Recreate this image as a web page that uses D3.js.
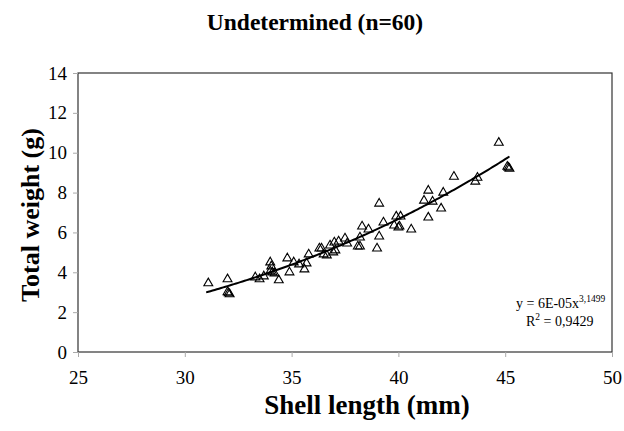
<!DOCTYPE html>
<html>
<head>
<meta charset="utf-8">
<script src="https://cdn.jsdelivr.net/npm/d3@7"></script>
<style>
  body { margin: 0; background: #fff; }
  svg text { font-family: "Liberation Serif", "Times New Roman", serif; }
</style>
</head>
<body>
<svg id="chart"></svg>
<script>
// shell length (mm) / total weight (g)
const shellLength = [
  31.1, 32.0, 32.0, 32.1, 32.05, 33.3, 33.5, 33.7, 34.0, 34.05,
  34.0, 34.2, 34.4, 34.8, 34.9, 35.1, 35.35, 35.6, 35.7, 35.8,
  36.3, 36.5, 36.65, 36.8, 36.95, 37.0, 37.2, 37.5, 37.6, 38.1,
  38.2, 38.3, 38.6, 39.1, 39.3, 39.1, 39.0, 39.9, 40.1, 39.8,
  40.0, 40.6, 41.4, 41.2, 41.6, 42.0, 41.4, 42.1, 42.6, 43.6,
  43.7, 44.7, 45.1, 45.2, 36.4, 38.2, 40.05, 34.1, 37.05, 45.15
];
const totalWeight = [
  3.45, 3.65, 3.0, 2.9, 2.95, 3.75, 3.65, 3.8, 4.5, 4.3,
  4.05, 3.95, 3.6, 4.7, 4.0, 4.5, 4.4, 4.15, 4.45, 4.9,
  5.2, 4.9, 4.85, 5.35, 5.0, 5.5, 5.55, 5.7, 5.45, 5.3,
  5.75, 6.3, 6.15, 7.45, 6.5, 5.8, 5.2, 6.8, 6.8, 6.35,
  6.25, 6.15, 8.1, 7.6, 7.55, 7.2, 6.75, 8.0, 8.8, 8.55,
  8.75, 10.5, 9.3, 9.2, 5.2, 5.3, 6.3, 4.0, 5.1, 9.25
];
const xTicks = [25, 30, 35, 40, 45, 50];
const yTicks = [0, 2, 4, 6, 8, 10, 12, 14];
// power trendline y = a * x^b
const fitA = 6e-5, fitB = 3.1499;
const fitRange = [31.0, 45.2];

const serif = "'Liberation Serif', 'Times New Roman', serif";
const W = 624, H = 431;
const m = { left: 78, right: 12, top: 73, bottom: 79 };

const svg = d3.select("#chart").attr("width", W).attr("height", H);

const x = d3.scaleLinear().domain([25, 50]).range([m.left, W - m.right]);
const y = d3.scaleLinear().domain([0, 14]).range([H - m.bottom, m.top]);

// frame around the plot area
svg.append("rect")
  .attr("x", x(25)).attr("y", y(14))
  .attr("width", x(50) - x(25)).attr("height", y(0) - y(14))
  .attr("fill", "none").attr("stroke", "#333").attr("stroke-width", 1.2);

// axes
const xAxis = svg.append("g")
  .attr("transform", "translate(0," + y(0) + ")")
  .call(d3.axisBottom(x).tickValues(xTicks).tickSize(5).tickPadding(14));
const yAxis = svg.append("g")
  .attr("transform", "translate(" + x(25) + ",0)")
  .call(d3.axisLeft(y).tickValues(yTicks).tickSize(5).tickPadding(6));

[xAxis, yAxis].forEach(g => {
  g.attr("font-family", serif).attr("font-size", 19);
  g.select(".domain").remove();
  g.selectAll("line").attr("stroke", "#aaa");
  g.selectAll("text").attr("fill", "#000");
});

// trendline
const fitXs = d3.range(fitRange[0], fitRange[1] + 0.001, 0.1);
svg.append("path")
  .datum(fitXs)
  .attr("fill", "none")
  .attr("stroke", "#000")
  .attr("stroke-width", 2)
  .attr("d", d3.line().x(d => x(d)).y(d => y(fitA * Math.pow(d, fitB))));

// points
svg.append("g").selectAll("path")
  .data(d3.range(shellLength.length))
  .enter().append("path")
  .attr("transform", i => "translate(" + x(shellLength[i]) + "," + y(totalWeight[i]) + ")")
  .attr("d", d3.symbol(d3.symbolTriangle, 34))
  .attr("fill", "none")
  .attr("stroke", "#000")
  .attr("stroke-width", 1.1);

// title
svg.append("text")
  .attr("x", 315).attr("y", 30)
  .attr("text-anchor", "middle")
  .style("font-family", serif)
  .style("font-size", "23.5px").style("font-weight", "bold")
  .text("Undetermined (n=60)");

// axis titles
svg.append("text")
  .attr("x", 367).attr("y", 414)
  .attr("text-anchor", "middle")
  .style("font-family", serif)
  .style("font-size", "27px").style("font-weight", "bold")
  .text("Shell length (mm)");

svg.append("text")
  .attr("transform", "translate(39," + 215 + ") rotate(-90)")
  .attr("text-anchor", "middle")
  .style("font-family", serif)
  .style("font-size", "26px").style("font-weight", "bold")
  .text("Total weight (g)");

// equation
const eq = svg.append("text")
  .attr("x", 516).attr("y", 308)
  .style("font-family", serif)
  .style("font-size", "14px");
eq.append("tspan").text("y = 6E-05x");
eq.append("tspan").attr("dy", -6).style("font-size", "9.5px").text("3,1499");

const r2 = svg.append("text")
  .attr("x", 526).attr("y", 326)
  .style("font-family", serif)
  .style("font-size", "14px");
r2.append("tspan").text("R");
r2.append("tspan").attr("dy", -6).style("font-size", "9.5px").text("2");
r2.append("tspan").attr("dy", 6).text(" = 0,9429");
</script>
</body>
</html>
